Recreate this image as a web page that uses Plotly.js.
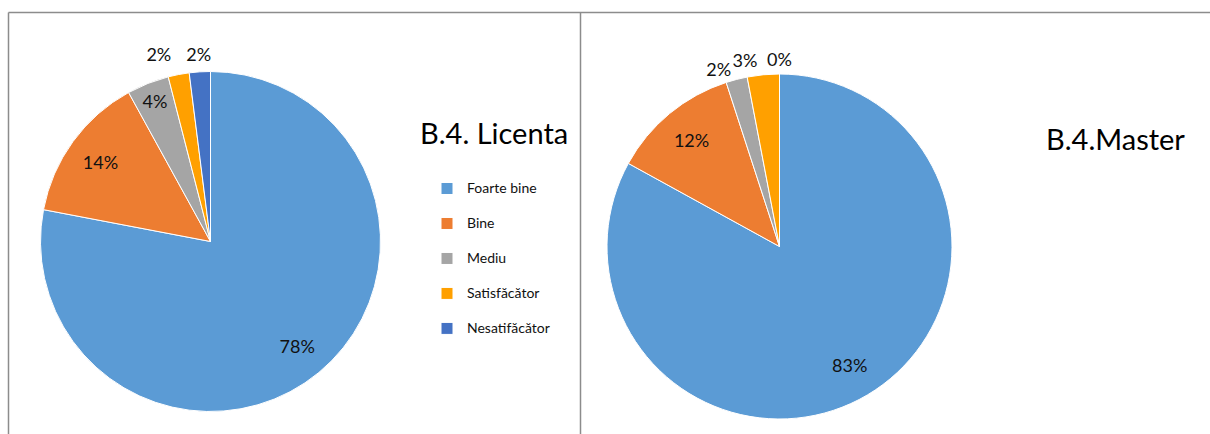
<!DOCTYPE html>
<html><head><meta charset="utf-8">
<script src="https://cdn.plot.ly/plotly-3.0.1.min.js"></script>
<style>html,body{margin:0;padding:0;background:#fff;overflow:hidden} #chart{width:1210px;height:434px;}</style>
</head><body><div id="chart"></div>
<script>
// ---- data ----
const categories = ['Foarte bine', 'Bine', 'Mediu', 'Satisfăcător', 'Nesatifăcător'];
const licentaValues = [78, 14, 4, 2, 2];
const masterValues = [83, 12, 2, 3, 0];
const chartTitles = ['B.4. Licenta', 'B.4.Master'];

// ---- styles ----
const colors = ['#5B9BD5', '#ED7D31', '#A5A5A5', '#FFA000', '#4472C4'];
const clear = categories.map(() => 'rgba(0,0,0,0)');
const W = 1210, H = 434;
const px = x => x / W;
const py = y => 1 - y / H;
const FONT = 'Lato, "Open Sans", sans-serif';
const legendNames = categories.map(c => '<span style="font-size:14px">' + c + '</span><br> ');

function dom(cx, cy, r) {
  return {x: [px(cx - r), px(cx + r)], y: [py(cy + r), py(cy - r)]};
}

function basePie(values, domain) {
  return {
    type: 'pie', labels: legendNames, values: values, sort: false,
    direction: 'clockwise', rotation: 0, domain: domain,
    insidetextorientation: 'horizontal',
    textfont: {family: FONT, size: 18, color: '#111'},
    hoverinfo: 'skip'
  };
}

// visible pie + transparent pies that only carry the data labels (label placement layers)
function chart(values, cx, cy, r, legendId, labelLayers) {
  const main = Object.assign(basePie(values, dom(cx, cy, r)), {
    legend: legendId, showlegend: true, textinfo: 'none',
    marker: {colors: colors, line: {color: '#ffffff', width: 1}}
  });
  const layers = labelLayers.map(L => Object.assign(basePie(values, dom(cx, cy, L.radius)), {
    hole: L.hole, showlegend: false,
    marker: {colors: clear, line: {width: 0}},
    texttemplate: '%{value}%',
    textposition: L.pos
  }));
  return [main].concat(layers);
}

const traces = [].concat(
  chart(licentaValues, 210.5, 241.5, 170, 'legend', [
    {radius: 170, hole: 0.6, pos: ['inside', 'inside', 'inside', 'none', 'none']},
    {radius: 180, hole: 0.6, pos: ['none', 'none', 'none', 'outside', 'none']},
    {radius: 192, hole: 0.96, pos: ['none', 'none', 'none', 'none', 'inside']}
  ]),
  chart(masterValues, 779.5, 246.5, 172.5, 'legend2', [
    {radius: 172.5, hole: 0.6, pos: ['inside', 'inside', 'outside', 'none', 'none']},
    {radius: 176, hole: 0.96, pos: ['none', 'none', 'none', 'outside', 'none']},
    {radius: 187.5, hole: 0.96, pos: ['none', 'none', 'none', 'none', 'inside']}
  ])
);

const legendCommon = {
  font: {family: FONT, size: 12.3, color: '#111'},
  valign: 'top',
  bgcolor: 'rgba(0,0,0,0)',
  xanchor: 'left', yanchor: 'top',
  traceorder: 'normal'
};

const lineStyle = {color: '#8c8c8c', width: 1.5};
const layout = {
  width: W, height: H,
  margin: {l: 0, r: 0, t: 0, b: 0},
  paper_bgcolor: '#ffffff',
  font: {family: FONT},
  uniformtext: {minsize: 18, mode: 'show'},
  legend: Object.assign({x: px(427), y: py(174)}, legendCommon),
  legend2: Object.assign({x: px(1068), y: py(174)}, legendCommon),
  shapes: [
    {type: 'line', xref: 'paper', yref: 'paper', x0: px(8.5), x1: 1, y0: py(12.5), y1: py(12.5), line: lineStyle},
    {type: 'line', xref: 'paper', yref: 'paper', x0: px(8.5), x1: px(8.5), y0: py(12.5), y1: 0, line: lineStyle},
    {type: 'line', xref: 'paper', yref: 'paper', x0: px(580.5), x1: px(580.5), y0: py(12.5), y1: 0, line: lineStyle}
  ],
  annotations: [
    {text: chartTitles[0], xref: 'paper', yref: 'paper', x: px(494), y: py(132), xanchor: 'center', yanchor: 'middle',
     showarrow: false, font: {family: FONT, size: 29, color: '#000'}},
    {text: chartTitles[1], xref: 'paper', yref: 'paper', x: px(1115), y: py(138), xanchor: 'center', yanchor: 'middle',
     showarrow: false, font: {family: FONT, size: 29, color: '#000'}}
  ]
};

Plotly.newPlot('chart', traces, layout, {displayModeBar: false, staticPlot: true});
</script>
</body></html>
